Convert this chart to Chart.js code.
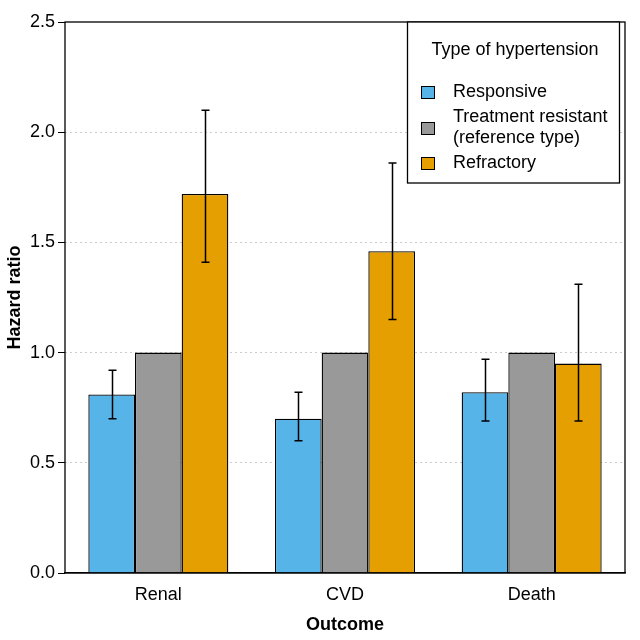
<!DOCTYPE html>
<html lang="en">
<head>
<meta charset="UTF-8">
<title>Hazard ratio by outcome</title>
<style>
  html, body { margin: 0; padding: 0; background: #fff; }
  #wrap { width: 640px; height: 640px; }
</style>
</head>
<body>
<div id="wrap"><canvas id="hrChart" width="640" height="640"></canvas></div>
<script src="https://cdn.jsdelivr.net/npm/chart.js"></script>
<script>
// data
const outcomes = ['Renal', 'CVD', 'Death'];
const groupNames = ['Responsive', 'Treatment resistant\n(reference type)', 'Refractory'];
const groupColors = ['#56B4E9', '#999999', '#E69F00'];

const responsiveHR = [0.81, 0.70, 0.82];
const responsiveLow = [0.70, 0.60, 0.69];
const responsiveHigh = [0.92, 0.82, 0.97];

const resistantHR = [1.0, 1.0, 1.0];

const refractoryHR = [1.72, 1.46, 0.95];
const refractoryLow = [1.41, 1.15, 0.69];
const refractoryHigh = [2.10, 1.86, 1.31];

const yTicks = [0, 0.5, 1.0, 1.5, 2.0, 2.5];

const FONT = 'Liberation Sans, Arial, sans-serif';

// error bars, drawn from the value scale
const errorBars = {
    id: 'errorBars',
    afterDatasetsDraw(chart) {
        const c = chart.ctx;
        const y = chart.scales.y;
        c.save();
        c.strokeStyle = '#000';
        c.lineWidth = 1.5;
        chart.data.datasets.forEach((ds, i) => {
            if (!ds.low) return;
            const meta = chart.getDatasetMeta(i);
            meta.data.forEach((bar, j) => {
                const x = Math.round(bar.x) + 0.5;
                const y1 = y.getPixelForValue(ds.low[j]);
                const y2 = y.getPixelForValue(ds.high[j]);
                c.beginPath();
                c.moveTo(x, y1); c.lineTo(x, y2);
                c.moveTo(x - 4, y1); c.lineTo(x + 4, y1);
                c.moveTo(x - 4, y2); c.lineTo(x + 4, y2);
                c.stroke();
            });
        });
        c.restore();
    }
};

// box round the plot plus the legend panel
const boxAndLegend = {
    id: 'boxAndLegend',
    afterDraw(chart) {
        const c = chart.ctx;
        const a = chart.chartArea;
        c.save();
        c.strokeStyle = '#000';
        c.lineWidth = 1.3;
        c.strokeRect(a.left, a.top, a.right - a.left, a.bottom - a.top);

        // legend
        const lx = 407, ly = a.top, lw = 212, lh = 161;
        c.fillStyle = '#fff';
        c.fillRect(lx, ly, lw, lh);
        c.strokeRect(lx + 0.5, ly, lw, lh);
        c.fillStyle = '#000';
        c.font = '18px ' + FONT;
        c.textAlign = 'center';
        c.textBaseline = 'middle';
        c.fillText('Type of hypertension', lx + lw / 2 + 2, 50);

        c.textAlign = 'left';
        const rows = [92, 128, 163];
        chart.data.datasets.forEach((ds, i) => {
            const cy = rows[i];
            c.fillStyle = ds.backgroundColor;
            c.fillRect(421, cy - 6, 13, 12);
            c.strokeStyle = '#000';
            c.lineWidth = 1;
            c.strokeRect(421.5, cy - 5.5, 13, 12);
            c.fillStyle = '#000';
            const lines = ds.label.split('\n');
            const step = 21;
            lines.forEach((t, k) => {
                c.fillText(t, 453, cy + (k - (lines.length - 1) / 2) * step);
            });
        });
        c.restore();
    }
};

const ctx = document.getElementById('hrChart').getContext('2d');
const hrChart = new Chart(ctx, {
    type: 'bar',
    data: {
        labels: outcomes,
        datasets: [
            { label: groupNames[0], data: responsiveHR, low: responsiveLow, high: responsiveHigh, backgroundColor: groupColors[0] },
            { label: groupNames[1], data: resistantHR, backgroundColor: groupColors[1] },
            { label: groupNames[2], data: refractoryHR, low: refractoryLow, high: refractoryHigh, backgroundColor: groupColors[2] }
        ].map(d => Object.assign(d, {
            borderColor: '#000',
            borderWidth: 1.3,
            categoryPercentage: 0.75,
            barPercentage: 1.0
        }))
    },
    options: {
        responsive: false,
        animation: false,
        layout: { padding: { top: 22, right: 15, left: 0, bottom: 0 } },
        plugins: {
            legend: { display: false },
            tooltip: { enabled: false }
        },
        scales: {
            x: {
                grid: { display: false },
                border: { display: true, color: '#000', width: 1.3 },
                ticks: { color: '#000', font: { family: FONT, size: 18 }, padding: 3 },
                title: { display: true, text: 'Outcome', color: '#000', font: { family: FONT, size: 18, weight: 'bold' }, padding: { top: 12 } },
                afterFit: s => { s.height = 67; }
            },
            y: {
                min: 0,
                max: 2.5,
                afterBuildTicks: s => { s.ticks = yTicks.map(v => ({ value: v })); },
                grid: {
                    color: c => (c.tick && (c.tick.value === 0 || c.tick.value === 2.5)) ? 'rgba(0,0,0,0)' : '#cccccc',
                    tickColor: '#000',
                    tickLength: 7,
                    tickBorderDash: [],
                    lineWidth: 1
                },
                // in v4 the grid-line dash lives under border; the axis line itself is redrawn by the box plugin
                border: { display: false, dash: [2, 3] },
                ticks: {
                    color: '#000',
                    font: { family: FONT, size: 18 },
                    padding: 3,
                    callback: v => Number(v).toFixed(1)
                },
                title: { display: true, text: 'Hazard ratio', color: '#000', font: { family: FONT, size: 18, weight: 'bold' }, padding: { bottom: 4 } },
                afterFit: s => { s.width = 65; }
            }
        }
    },
    plugins: [errorBars, boxAndLegend]
});
</script>
</body>
</html>
